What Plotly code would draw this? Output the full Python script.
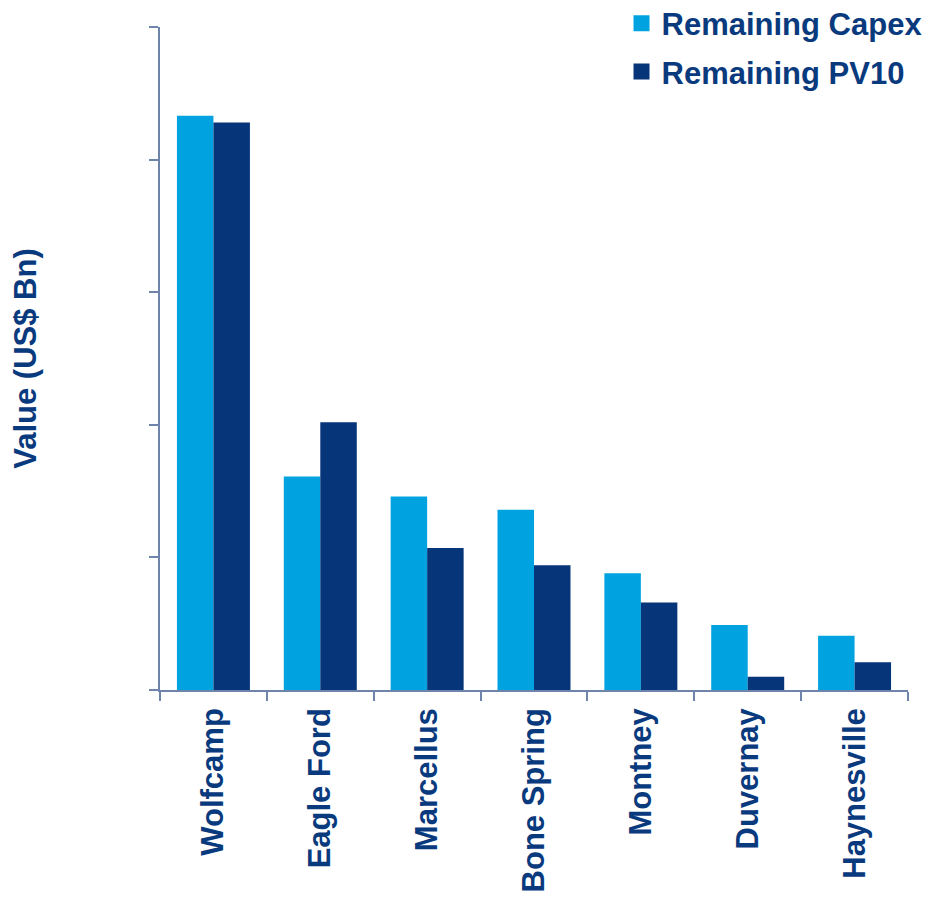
import plotly.graph_objects as go

categories = ["Wolfcamp", "Eagle Ford", "Marcellus", "Bone Spring", "Montney", "Duvernay", "Haynesville"]
capex = [43.3, 16.1, 14.6, 13.6, 8.8, 4.9, 4.1]
pv10 = [42.8, 20.2, 10.7, 9.4, 6.6, 1.0, 2.1]

C_CAPEX = "#00a3e0"
C_PV10 = "#06357a"
TXT = "#0a3a7e"
AX = "#6f84aa"
FONT = "Liberation Sans, Arial, sans-serif"

fig = go.Figure()
fig.add_trace(go.Bar(x=categories, y=capex, name="Remaining Capex", marker=dict(color=C_CAPEX, line=dict(width=0)), showlegend=False))
fig.add_trace(go.Bar(x=categories, y=pv10, name="Remaining PV10", marker=dict(color=C_PV10, line=dict(width=0)), showlegend=False))
# legend entries
fig.add_trace(go.Scatter(x=[None], y=[None], mode="markers", name="Remaining Capex",
                         marker=dict(symbol="square", size=20, color=C_CAPEX), legendgroup="a"))
fig.add_trace(go.Scatter(x=[None], y=[None], mode="markers", name="Remaining PV10",
                         marker=dict(symbol="square", size=20, color=C_PV10), legendgroup="b"))

fig.update_layout(
    width=918, height=884,
    margin=dict(l=152, r=18, t=19, b=202, autoexpand=False),
    paper_bgcolor="white", plot_bgcolor="white",
    barmode="group", bargap=0.317, bargroupgap=0,
    font=dict(family=FONT, color=TXT, size=30),
    legend=dict(x=0.617, xanchor="left", y=1.046, yanchor="top",
                font=dict(family=FONT, size=31, color=TXT, weight="bold"),
                itemsizing="trace", tracegroupgap=5, bgcolor="rgba(0,0,0,0)"),
    xaxis=dict(type="category", showline=True, linecolor=AX, linewidth=1.5,
               ticks="outside", tickson="boundaries", ticklen=9, tickcolor=AX, tickwidth=1.5,
               tickangle=-90, ticklabelstandoff=4,
               tickfont=dict(family=FONT, size=31, color=TXT, weight="bold"),
               showgrid=False, zeroline=False),
    yaxis=dict(range=[0, 50], dtick=10, showline=True, linecolor=AX, linewidth=1.5,
               ticks="outside", ticklen=9, tickcolor=AX, tickwidth=1.5,
               showticklabels=False, showgrid=False, zeroline=False,
               title=dict(text="Value (US$ Bn)", standoff=103,
                          font=dict(family=FONT, size=31, color=TXT, weight="bold"))),
)

fig.write_html("out.html")
